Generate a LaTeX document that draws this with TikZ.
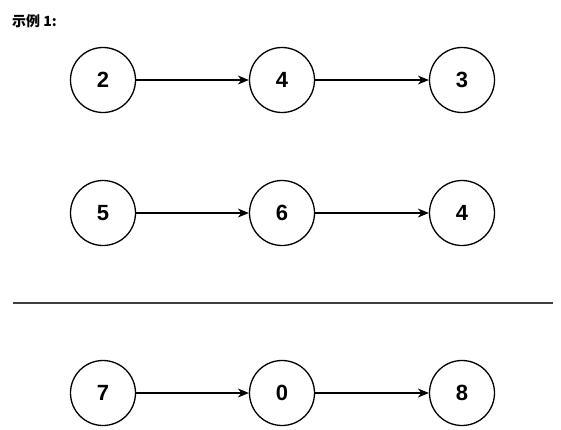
\documentclass[tikz,border=0pt]{standalone}
\usepackage{fontspec}
\setmainfont{Liberation Sans}
\newfontfamily\cjk{Noto Sans CJK SC}
\usetikzlibrary{arrows.meta}
\begin{document}
\begin{tikzpicture}[x=1pt,y=-1pt,
  num/.style={circle,draw,line width=1.3pt,minimum size=65pt,inner sep=0pt,font=\fontsize{22}{22}\selectfont\bfseries},
  link/.style={-{Stealth[length=11pt,width=9pt]},line width=1.3pt}]
\useasboundingbox (0,0) rectangle (561,429);
\node[anchor=west,inner sep=0pt,font=\cjk\bfseries\fontsize{14}{14}\selectfont] (title) at (12,21) {示例 1:};
\foreach \r/\y/\a/\b/\c in {1/80/2/4/3, 2/213/5/6/4, 3/393/7/0/8}{
  \node[num] (n\r a) at (103,\y) {\a};
  \node[num] (n\r b) at (282,\y) {\b};
  \node[num] (n\r c) at (462,\y) {\c};
  \draw[link] (n\r a) -- (n\r b);
  \draw[link] (n\r b) -- (n\r c);
}
\coordinate (l1) at (13,303);
\coordinate (l2) at (553,303);
\draw[line width=2pt,black!75] (l1) -- (l2);
\end{tikzpicture}
\end{document}
